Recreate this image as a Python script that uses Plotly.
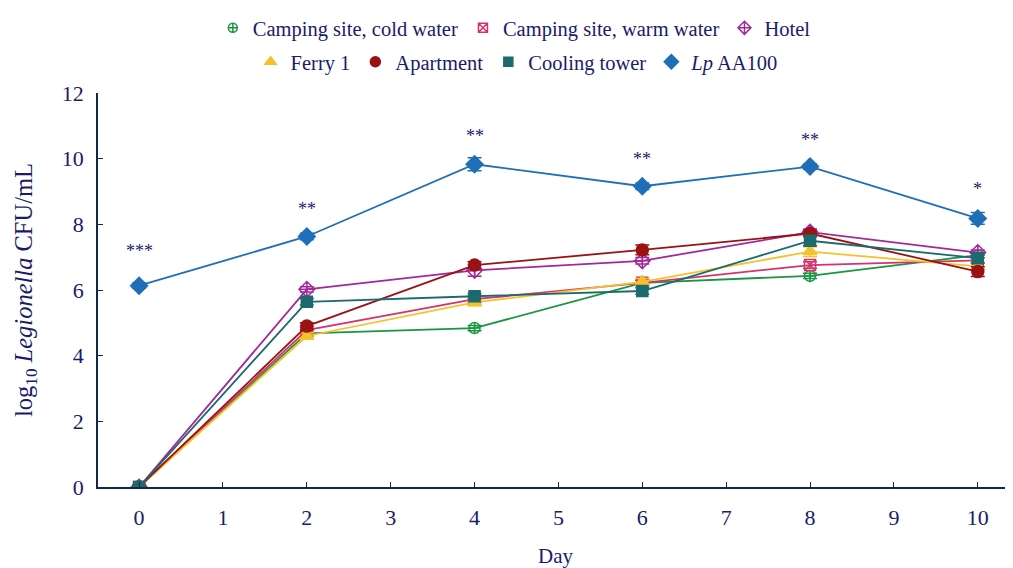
import plotly.graph_objects as go

days = [0, 2, 4, 6, 8, 10]

camp_cold = [0.0, 4.68, 4.84, 6.22, 6.43, 7.06]
camp_warm = [0.0, 4.78, 5.72, 6.22, 6.76, 6.90]
hotel = [0.0, 6.02, 6.60, 6.89, 7.76, 7.14]
ferry = [0.0, 4.60, 5.62, 6.25, 7.17, 6.72]
apartment = [0.0, 4.90, 6.76, 7.22, 7.72, 6.56]
cooling = [0.0, 5.64, 5.81, 5.97, 7.50, 6.97]
lp = [6.13, 7.63, 9.83, 9.16, 9.76, 8.18]

err_camp_cold = [0.05, 0.08, 0.08, 0.08, 0.08, 0.08]
err_camp_warm = [0.05, 0.10, 0.10, 0.08, 0.10, 0.08]
err_hotel = [0.05, 0.08, 0.18, 0.10, 0.10, 0.08]
err_ferry = [0.05, 0.10, 0.10, 0.10, 0.15, 0.10]
err_apartment = [0.05, 0.10, 0.10, 0.15, 0.10, 0.15]
err_cooling = [0.05, 0.10, 0.08, 0.10, 0.15, 0.15]
err_lp = [0.08, 0.10, 0.20, 0.10, 0.08, 0.18]

series_names = ["Camping site, cold water", "Camping site, warm water", "Hotel",
                "Ferry 1", "Apartment", "Cooling tower", "<i>Lp</i> AA100"]
stars = ["***", "**", "**", "**", "**", "*"]

NAVY = "#1b1b6b"
AXIS = "#0f2a48"
FONT = "Liberation Serif"

series = [
    (camp_cold, err_camp_cold, "#1a9641", "circle-cross-open", 11, "legend"),
    (camp_warm, err_camp_warm, "#d6336c", "square-x-open", 11, "legend"),
    (hotel, err_hotel, "#a12a9a", "diamond-cross-open", 12, "legend"),
    (ferry, err_ferry, "#f5c22b", "triangle-up", 12, "legend2"),
    (apartment, err_apartment, "#9b1212", "circle", 12, "legend2"),
    (cooling, err_cooling, "#1d6a6e", "square", 11, "legend2"),
    (lp, err_lp, "#1f6fb8", "diamond", 13, "legend2"),
]

fig = go.Figure()
for (vals, errs, color, sym, size, leg), name in zip(series, series_names):
    fig.add_trace(go.Scatter(
        x=days, y=vals, name=name, mode="lines+markers", showlegend=False,
        line=dict(color=color, width=1.8),
        marker=dict(symbol=sym, size=size, color=color,
                    line=dict(color=color, width=1.5)),
        error_y=dict(type="data", array=errs, visible=True, color=color,
                     thickness=1.5, width=7),
    ))
    # legend entry: marker only (as in the reference)
    fig.add_trace(go.Scatter(
        x=[None], y=[None], name=name, mode="markers", legend=leg,
        marker=dict(symbol=sym, size=size - 2, color=color,
                    line=dict(color=color, width=1.5)),
    ))

star_shift = [35, 27, 28, 27, 27, 29]
for d, v, s, sh in zip(days, lp, stars, star_shift):
    fig.add_annotation(x=d, y=v, text=s, showarrow=False, yshift=sh,
                       font=dict(family=FONT, size=18, color=NAVY))

leg_common = dict(orientation="h", xanchor="center", yanchor="middle",
                  font=dict(family=FONT, size=20.5, color=NAVY), itemwidth=30,
                  tracegroupgap=0, bgcolor="rgba(0,0,0,0)")

# page body adds an 8px offset, so the figure is 8px smaller than the window
fig.update_layout(
    width=1005, height=560,
    paper_bgcolor="white", plot_bgcolor="white",
    margin=dict(l=90, r=0, t=85, b=81, autoexpand=False),
    font=dict(family=FONT, size=20, color=NAVY),
    legend=dict(x=0.455, y=1.165, **leg_common),
    legend2=dict(x=0.458, y=1.079, **leg_common),
    xaxis=dict(range=[-0.49, 10.42], tickmode="array", tickvals=list(range(11)),
               ticks="inside", ticklen=5, tickcolor=AXIS, showline=True,
               linecolor=AXIS, linewidth=1.5, showgrid=False, zeroline=False,
               ticklabelstandoff=10,
               tickfont=dict(family=FONT, size=22, color=NAVY),
               title=dict(text="Day", font=dict(family=FONT, size=21, color=NAVY),
                          standoff=19)),
    yaxis=dict(range=[0, 12], tickmode="array", tickvals=[0, 2, 4, 6, 8, 10, 12],
               ticks="inside", ticklen=5, tickcolor=AXIS, showline=True,
               linecolor=AXIS, linewidth=1.5, showgrid=False, zeroline=False,
               ticklabelstandoff=8,
               tickfont=dict(family=FONT, size=22, color=NAVY),
               title=dict(text="log<sub>10</sub> <i>Legionella</i> CFU/mL",
                          font=dict(family=FONT, size=24.5, color=NAVY), standoff=22)),
)

fig.write_html("out.html")
